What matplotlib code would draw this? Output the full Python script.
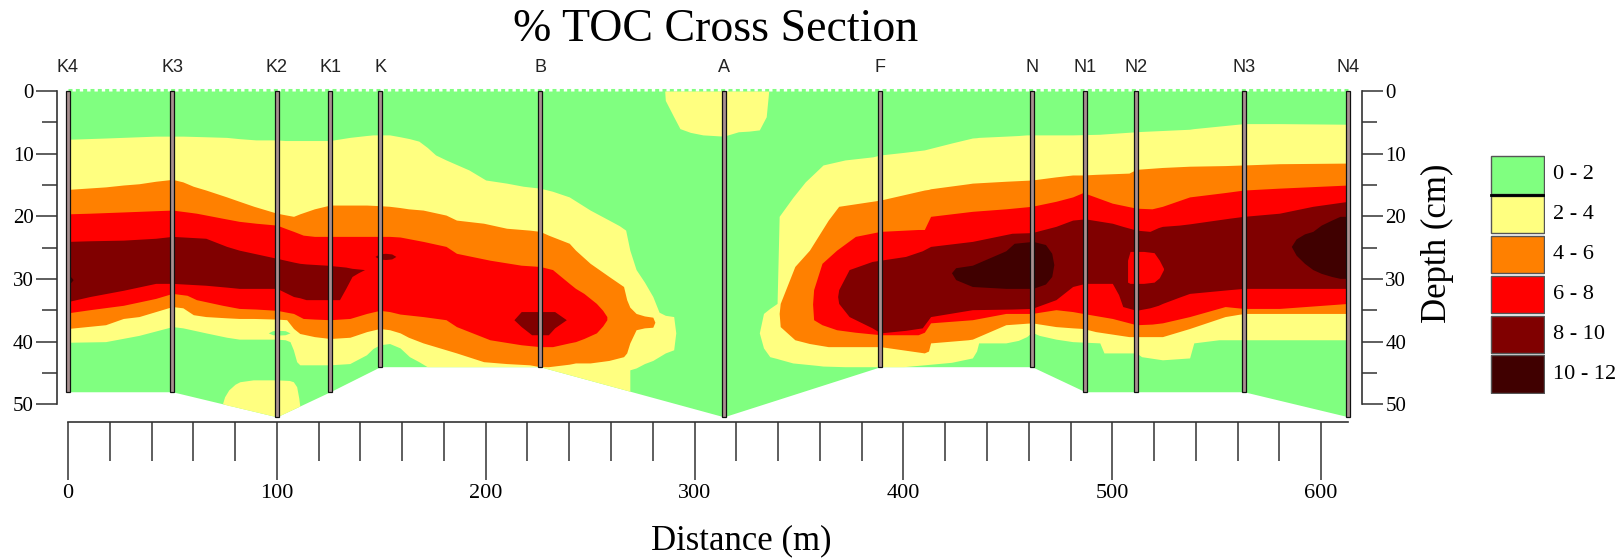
import matplotlib
matplotlib.use("Agg")
import matplotlib.pyplot as plt
from matplotlib.patches import Rectangle

plt.rcParams["font.family"] = ["Liberation Serif", "DejaVu Serif"]

# ---------------------------------------------------------------- wells
well_names = ["K4", "K3", "K2", "K1", "K", "B", "A", "F", "N", "N1", "N2", "N3", "N4"]
well_x = [0, 50, 100, 125.5, 149.5, 226, 314, 389, 461.5, 487, 511.5, 563, 613]
well_bottom = [48, 48, 52, 48, 44, 44, 52, 44, 44, 48, 48, 48, 52]

# ------------------------------------------------ %TOC class envelopes
# each envelope: distance (m), upper depth (cm), lower depth (cm)
levels = ["0 - 2", "2 - 4", "4 - 6", "6 - 8", "8 - 10", "10 - 12"]
colors = ["#80FF80", "#FFFF80", "#FF8000", "#FF0000", "#800000", "#400000"]

# >= 2 %, western lobe
ly_x = [0, 18, 34, 42, 50, 55, 66, 76, 82, 90, 98, 100, 104, 106.3, 107.9,
        109.5, 111, 118, 125.5, 134.9, 142.9, 146, 149.3, 154, 159, 163.5, 168,
        172, 176, 181, 192, 200, 210, 218, 226, 232, 240, 250, 259, 264, 267,
        269, 269, 272, 276, 280, 283, 286, 290, 291]
ly_top = [7.7, 7.5, 7.3, 7.2, 7.2, 7.2, 7.3, 7.4, 7.6, 7.8, 7.8, 7.8, 7.9, 7.9, 7.9,
          7.9, 7.9, 7.9, 7.9, 7.4, 7.1, 7.0, 7.0, 7.0, 7.3, 7.6, 8.0,
          9.0, 10.2, 11.0, 12.6, 14.2, 14.7, 15.2, 15.5, 16.0, 16.9, 19.0, 20.6, 21.5, 22.2,
          25.4, 25.4, 28.5, 30.5, 32.8, 35.3, 35.8, 36.0, 38.6]
ly_bot = [40.1, 40.0, 39.0, 38.3, 37.6, 37.8, 38.6, 39.3, 39.6, 39.6, 39.6, 39.6, 39.7, 40.0, 41.3,
          43.2, 43.7, 43.7, 43.7, 43.5, 42.1, 41.1, 40.5, 40.3, 41.0, 42.4, 43.2,
          44.0, 44.0, 44.0, 44.0, 44.0, 44.0, 44.0, 44.0, 44.55, 45.27, 46.18, 47.0, 47.45, 47.73,
          47.91, 44.5, 44.2, 43.5, 43.0, 42.4, 41.8, 41.3, 38.6]

# >= 2 %, near-surface patch at A
ay_x = [285.7, 286, 290, 293, 298, 304, 314, 321, 326, 331, 334.3, 335.5]
ay_top = [0, 0, 0, 0, 0, 0, 0, 0, 0, 0, 0, 0]
ay_bot = [0.0, 1.5, 4.1, 6.0, 6.6, 7.0, 7.2, 6.5, 6.4, 6.2, 4.1, 0.0]

# >= 2 %, basal patch at K2
ky_x = [74, 75, 77, 80, 82.3, 88.7, 100, 106, 107.9, 109.5, 110.5, 111]
ky_top = [49.9, 48.8, 47.7, 46.8, 46.4, 46.1, 46.1, 46.2, 46.4, 47.2, 49.0, 50.3]
ky_bot = [49.9, 50.0, 50.2, 50.4, 50.6, 51.1, 52.0, 51.06, 50.76, 50.51, 50.35, 50.3]

# < 2 % lens inside the western lobe at K2
gb_x = [95.9, 98, 101, 104, 106.3]
gb_top = [38.6, 38.25, 38.2, 38.25, 38.6]
gb_bot = [38.6, 38.9, 38.95, 38.9, 38.6]

# >= 2 %, eastern lobe
ry_x = [331, 333, 336, 339.5, 340.5, 347, 353, 359, 361.5, 372, 385.4, 389, 400, 410,
        423, 433, 435, 436, 449, 455, 459, 461.5, 465, 473, 481, 494, 496, 511.5,
        514, 524, 537, 539, 551, 563, 580, 613]
ry_top = [38.6, 35.5, 34.7, 33.9, 20.0, 17.0, 14.5, 12.6, 11.8, 11.0, 10.5, 10.2, 9.8, 9.4,
          8.3, 7.5, 7.45, 7.4, 7.2, 7.1, 7.0, 7.0, 7.0, 7.0, 7.0, 6.9, 6.85, 6.5,
          6.45, 6.3, 6.1, 6.0, 5.6, 5.2, 5.2, 5.3]
ry_bot = [38.6, 41.0, 42.4, 42.7, 42.8, 43.4, 43.6, 43.8, 43.9, 44.0, 44.0, 44.0, 44.0, 43.7,
          43.3, 42.6, 41.5, 40.2, 40.2, 39.8, 39.2, 38.5, 39.0, 39.6, 40.0, 40.2, 41.8, 41.8,
          42.4, 42.9, 42.6, 40.2, 39.7, 39.7, 39.7, 39.7]

# >= 4 %
lo_x = [0, 18, 26.5, 34, 42, 50, 55, 60, 66, 76, 82, 89, 100, 104.7, 108, 111, 118,
        125.5, 135, 143, 149.3, 154, 159, 163, 170, 181, 186, 199, 210, 221, 226, 230,
        240, 243, 250, 259, 266, 267.5, 269, 272, 276, 280, 281]
lo_top = [15.7, 15.3, 15.0, 14.8, 14.4, 14.1, 14.5, 15.2, 15.8, 16.9, 17.6, 18.4, 19.5, 19.8,
          20.0, 19.6, 18.8, 18.2, 18.2, 18.2, 18.3, 18.4, 18.6, 18.8, 19.0, 19.8, 20.6, 21.1,
          21.9, 22.2, 22.4, 23.0, 24.3, 25.4, 27.5, 29.6, 31.2, 33.3, 34.5, 35.5, 35.9, 36.1, 36.9]
lo_bot = [37.9, 37.3, 36.3, 36.0, 35.2, 34.4, 34.6, 35.7, 36.0, 36.2, 36.3, 36.3, 36.4, 36.5,
          37.9, 38.7, 39.2, 39.5, 39.3, 38.4, 37.9, 38.1, 38.6, 39.3, 40.2, 41.3, 41.8, 43.2,
          43.5, 43.7, 44.0, 44.0, 43.6, 43.4, 43.4, 43.0, 42.4, 41.8, 40.2, 38.1, 37.8, 37.7, 36.9]

ro_x = [340.5, 341, 348, 355, 364, 369, 385, 389, 410, 412, 413, 431, 433, 449, 461.5,
        473, 481, 486, 492, 500, 508, 511.5, 524, 537, 554, 563, 580, 613]
ro_top = [35.5, 33.9, 28.0, 25.4, 20.6, 18.4, 17.6, 17.4, 15.8, 15.7, 15.6, 14.8, 14.7, 14.4,
          14.2, 13.7, 13.4, 13.4, 13.3, 13.2, 13.1, 12.5, 12.2, 12.0, 11.9, 11.8, 11.6, 11.5]
ro_bot = [35.5, 37.6, 39.7, 40.3, 40.8, 40.8, 40.8, 40.8, 41.8, 41.5, 40.2, 39.7, 39.6, 37.3,
          37.0, 37.6, 37.8, 37.9, 38.4, 38.8, 39.2, 39.2, 39.2, 37.9, 36.0, 35.5, 35.5, 35.5]

# >= 6 %
lr_x = [0, 10.5, 26.5, 42, 50, 57, 61.5, 74, 82, 90, 100, 104.7, 108, 112.6, 118, 125.5,
        135, 143, 149.3, 154, 159, 170, 181, 186, 202, 217, 226, 232, 240, 243, 247, 253,
        256, 258]
lr_top = [19.6, 19.5, 19.3, 19.1, 19.0, 19.3, 19.5, 20.3, 20.8, 21.1, 21.4, 22.0, 22.4, 23.0,
          23.2, 23.2, 23.2, 23.2, 23.2, 23.2, 23.3, 24.0, 24.8, 25.9, 27.0, 27.8, 28.0, 28.5,
          30.7, 31.5, 32.3, 33.9, 35.0, 36.0]
lr_bot = [35.4, 34.9, 34.2, 33.1, 32.3, 32.6, 33.3, 34.2, 34.7, 34.8, 35.0, 35.3, 35.5, 36.3,
          36.4, 36.5, 36.3, 35.5, 35.0, 35.2, 35.6, 36.0, 36.5, 37.6, 39.7, 40.5, 40.8, 40.8,
          40.2, 40.0, 39.5, 38.6, 37.5, 36.5]

rr_x = [356.5, 357, 361, 368, 377, 389, 407, 410, 413, 433, 449, 461.5, 473, 481, 486, 500,
        511.5, 519, 524, 537, 554, 563, 580, 613]
rr_top = [34.0, 31.7, 27.5, 25.4, 23.2, 22.4, 22.1, 22.1, 20.0, 19.2, 18.8, 18.4, 17.6, 16.9,
          16.2, 17.9, 18.7, 18.8, 18.4, 16.9, 16.2, 15.8, 15.5, 15.0]
rr_bot = [34.0, 36.5, 37.3, 38.1, 38.5, 38.9, 38.9, 38.5, 37.0, 36.5, 35.5, 35.5, 34.9, 35.2,
          35.5, 36.3, 37.3, 37.2, 37.0, 36.0, 34.4, 34.7, 34.7, 33.9]

# 6-8 % window inside the 8-10 % body at N2
nr_x = [507.3, 508.5, 515, 520, 522.5, 524.5]
nr_top = [27.0, 25.6, 25.6, 25.8, 27.0, 28.3]
nr_bot = [30.5, 30.7, 30.7, 30.5, 29.8, 28.5]

# >= 8 %
ld_x = [0, 10.5, 26.5, 42, 50, 66, 76, 82, 100, 108, 111, 114, 124, 130, 133, 136, 139, 142]
ld_top = [24.0, 23.9, 23.8, 23.5, 23.2, 23.5, 24.8, 25.4, 26.7, 27.3, 27.5, 27.6, 27.8, 28.0,
          28.1, 28.3, 28.4, 28.5]
ld_bot = [33.6, 32.8, 31.8, 30.7, 30.7, 31.0, 31.3, 31.5, 31.5, 32.8, 33.0, 33.3, 33.3, 33.3,
          31.5, 29.6, 29.0, 28.5]

kd_x = [147, 149, 152, 155, 157]
kd_top = [26.4, 26.0, 25.9, 26.0, 26.4]
kd_bot = [26.4, 26.8, 26.9, 26.8, 26.4]

bd_x = [213.5, 217, 222, 230, 233, 238.6]
bd_top = [36.5, 35.2, 35.2, 35.2, 35.2, 36.5]
bd_bot = [36.5, 37.6, 38.9, 38.9, 37.8, 36.5]

rd_x = [368.5, 369, 374, 385, 389, 401, 409, 413, 433, 452, 461.5, 473, 481, 487, 500, 503,
        505, 511.5, 518, 522, 524, 532, 537, 556, 563, 580, 596, 613]
rd_top = [32.8, 31.7, 28.5, 27.2, 27.0, 26.4, 25.5, 24.8, 24.0, 22.7, 22.6, 21.6, 20.6, 20.4,
          21.1, 21.4, 21.6, 22.2, 22.4, 21.8, 21.6, 21.4, 21.2, 20.3, 20.0, 19.5, 18.4, 17.6]
rd_bot = [32.8, 33.9, 36.0, 37.8, 38.6, 38.2, 37.8, 36.0, 34.9, 34.8, 34.7, 33.3, 31.2, 30.7,
          30.7, 32.5, 34.4, 35.0, 34.6, 34.2, 33.9, 32.9, 32.3, 31.7, 31.5, 31.5, 31.5, 31.5]

# >= 10 %
k4x_x = [0, 1.5, 2.5]
k4x_top = [29.5, 29.7, 30.1]
k4x_bot = [30.8, 30.5, 30.1]

nx_x = [423, 425, 433, 449, 453, 462, 468, 471, 472]
nx_top = [29.0, 28.2, 27.8, 25.5, 24.3, 24.0, 24.5, 25.9, 27.7]
nx_bot = [29.0, 30.1, 31.2, 31.5, 31.5, 31.5, 30.8, 29.6, 27.7]

ex_x = [585.7, 588, 592, 596, 600, 605, 609, 613]
ex_top = [24.8, 23.6, 22.8, 22.4, 21.4, 20.6, 20.0, 20.0]
ex_bot = [24.8, 26.2, 27.5, 28.5, 29.1, 29.6, 29.9, 29.9]

# drawing order: (class index, x, upper, lower)
envelopes = [
    (1, ly_x, ly_top, ly_bot), (1, ay_x, ay_top, ay_bot), (1, ky_x, ky_top, ky_bot),
    (1, ry_x, ry_top, ry_bot), (0, gb_x, gb_top, gb_bot),
    (2, lo_x, lo_top, lo_bot), (2, ro_x, ro_top, ro_bot),
    (3, lr_x, lr_top, lr_bot), (3, rr_x, rr_top, rr_bot),
    (4, ld_x, ld_top, ld_bot), (4, kd_x, kd_top, kd_bot), (4, bd_x, bd_top, bd_bot),
    (4, rd_x, rd_top, rd_bot), (3, nr_x, nr_top, nr_bot),
    (5, k4x_x, k4x_top, k4x_bot), (5, nx_x, nx_top, nx_bot), (5, ex_x, ex_top, ex_bot),
]

# ---------------------------------------------------------------- figure
W, H = 1621, 558
fig = plt.figure(figsize=(W / 100, H / 100), dpi=100)
ax = fig.add_axes([57.3 / W, 1 - 421.7 / H, (1361.7 - 57.3) / W, (421.7 - 87.9) / H])
ax.set_xlim(-5.1, 619.4)
ax.set_ylim(52.78, -0.5)

# section body (lowest class everywhere)
ax.fill_between(well_x, 0, well_bottom, color=colors[0], lw=0, zorder=1)
ax.plot([0, 613], [-0.22, -0.22], color=colors[0], lw=2.2,
        linestyle=(0, (1.3, 1.1)), solid_capstyle="butt", zorder=1)

for k, xs, top, bot in envelopes:
    ax.fill_between(xs, top, bot, color=colors[k], lw=0, zorder=2)

# wells
ax.bar(well_x, well_bottom, width=1.9, bottom=0, color="#a89090",
       edgecolor="#111111", linewidth=0.9, zorder=5)
for name, x in zip(well_names, well_x):
    ax.text(x, -3.7, name, ha="center", va="center", fontsize=13,
            family=["Liberation Sans", "DejaVu Sans"], color="#222222", clip_on=False)

# axes styling
axis_col = "#333333"
for s in ("top",):
    ax.spines[s].set_visible(False)
for s in ("left", "right", "bottom"):
    ax.spines[s].set_color(axis_col)
    ax.spines[s].set_linewidth(1.2)
ax.spines["left"].set_bounds(0, 50)
ax.spines["right"].set_bounds(0, 50)
ax.spines["bottom"].set_bounds(0, 613)

ax.set_yticks(range(0, 51, 10))
ax.set_yticks(range(5, 50, 10), minor=True)
ax.set_xticks(range(0, 601, 100))
ax.set_xticks(range(0, 614, 20), minor=True)

ax.tick_params(axis="y", which="both", left=True, right=True, labelleft=True,
               labelright=True, direction="out", color=axis_col, width=1.1,
               labelsize=15, pad=2)
ax.tick_params(axis="y", which="major", length=15)
ax.tick_params(axis="y", which="minor", length=10.5)
ax.tick_params(axis="x", which="both", direction="out", color=axis_col, width=1.1,
               labelsize=16, pad=3)
ax.tick_params(axis="x", which="major", length=41.8)
ax.tick_params(axis="x", which="minor", length=28)

# titles
fig.text(716 / W, 1 - 30 / H, "% TOC Cross Section", ha="center", va="center", fontsize=33)
fig.text(741 / W, 1 - 541 / H, "Distance (m)", ha="center", va="center", fontsize=25)
fig.text(1437 / W, 1 - 243 / H, "Depth (cm)", ha="center", va="center", fontsize=25,
         rotation=90)

# class key
lax = fig.add_axes([1490 / W, 1 - 394 / H, 55 / W, 239 / H])
lax.set_xlim(0, 1)
lax.set_ylim(len(levels), 0)
lax.axis("off")
for i, (lab, c) in enumerate(zip(levels, colors)):
    lax.add_patch(Rectangle((0.02, i + 0.03), 0.96, 0.94, facecolor=c,
                            edgecolor="#555555", linewidth=1.0))
    fig.text(1553 / W, 1 - (155 + 40.0 * i + 19.5) / H, lab, ha="left", va="center",
             fontsize=16)
lax.plot([0.02, 0.98], [1.0, 1.0], color="black", lw=2.0)

fig.savefig("out.png", dpi=100)
